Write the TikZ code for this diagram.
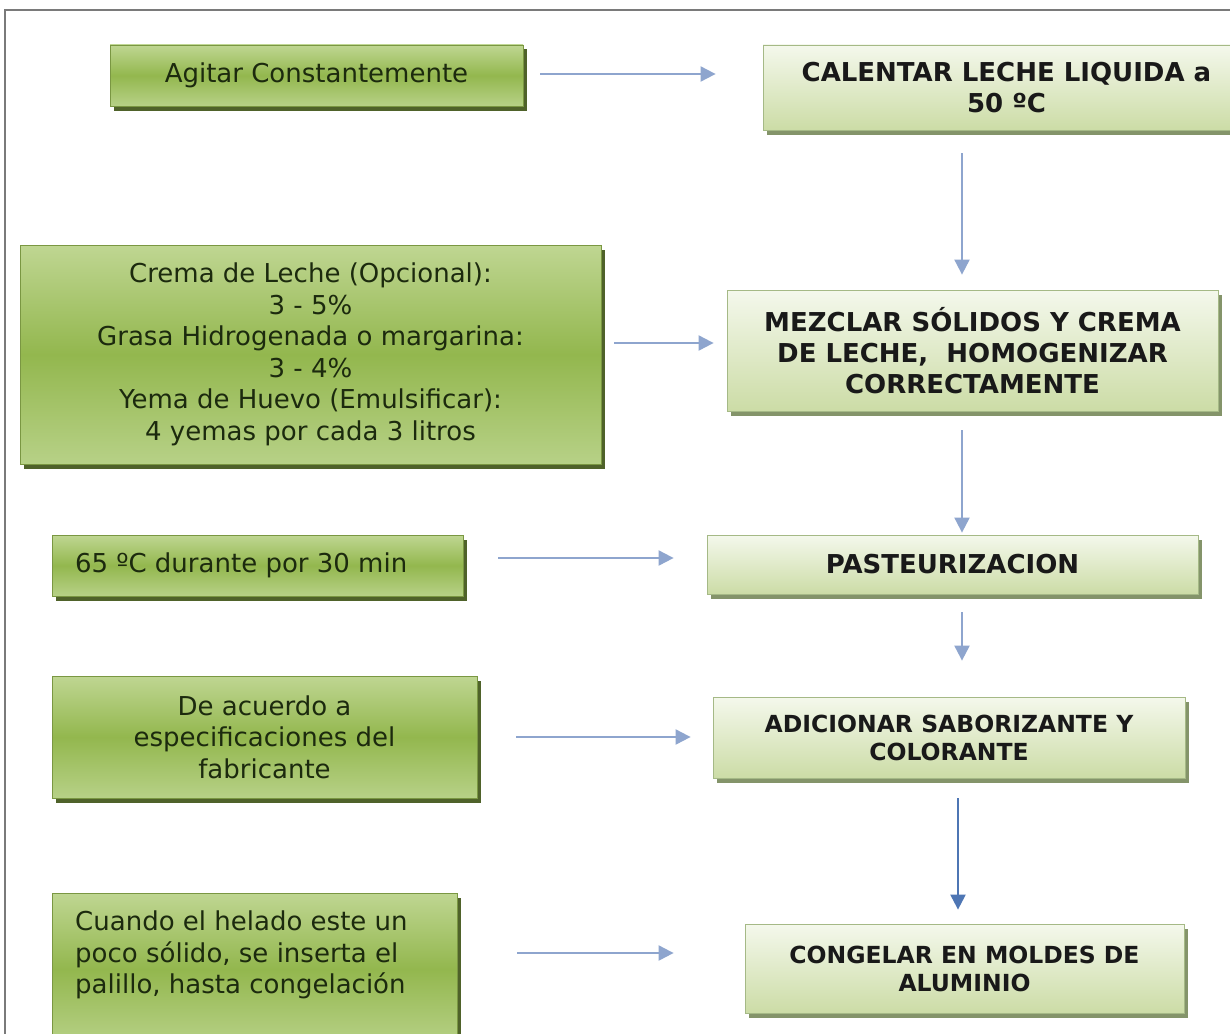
\documentclass[tikz,border=0pt]{standalone}
\usepackage{fontspec}
\setmainfont{DejaVu Sans}
\usetikzlibrary{arrows.meta,shadows}
\definecolor{lgTop}{HTML}{BFD692}
\definecolor{lgMid}{HTML}{93B74E}
\definecolor{lgBot}{HTML}{B7D187}
\definecolor{lgBorder}{HTML}{7A9742}
\definecolor{lgShadow}{HTML}{4F622A}
\definecolor{lgText}{HTML}{1C2A0E}
\definecolor{rgTop}{HTML}{F4F8EC}
\definecolor{rgBot}{HTML}{CCDCA6}
\definecolor{rgBorder}{HTML}{A5B986}
\definecolor{rgShadow}{HTML}{84946A}
\definecolor{arrLight}{HTML}{8EA5CE}
\definecolor{arrDark}{HTML}{4E76B4}
\definecolor{frameGray}{HTML}{7A7A7A}
\begin{document}
\begin{tikzpicture}[x=1pt,y=-1pt,
  lbox/.style={draw=lgBorder, line width=0.8pt, top color=lgTop, bottom color=lgBot, middle color=lgMid,
    general shadow={fill=lgShadow, shadow xshift=3.5pt, shadow yshift=-4.5pt},
    text=lgText, font=\fontsize{26}{31.5}\selectfont, align=center, inner sep=0pt},
  rbox/.style={draw=rgBorder, line width=0.8pt, top color=rgTop, bottom color=rgBot,
    general shadow={fill=rgShadow, shadow xshift=3.5pt, shadow yshift=-4.5pt},
    text=black!90, font=\fontsize{26}{31}\selectfont\bfseries, align=center, inner sep=0pt},
  smallb/.style={font=\fontsize{23.5}{28}\selectfont\bfseries},
  ltext/.style={text=lgText, font=\fontsize{26}{31.5}\selectfont, align=left, inner sep=0pt},
  flow/.style={draw=arrLight, line width=2pt, -{Triangle[length=15pt,width=15pt]}},
  flowdark/.style={draw=arrDark, line width=2.2pt, -{Triangle[length=15pt,width=15pt]}}
]
\useasboundingbox (0,0) rectangle (1230,1033);
\fill[white] (0,0) rectangle (1230,1033);
% frame
\draw[frameGray, line width=2.5pt] (5,1040) -- (5,10) -- (1240,10);

% left boxes
\node[lbox, minimum width=413, minimum height=61] (agit) at (316.5,75.5) {Agitar Constantemente};
\node[lbox, minimum width=581, minimum height=219] (crema) at (310.5,354.5)
  {Crema de Leche (Opcional):\\3 - 5\%\\Grasa Hidrogenada o margarina:\\3 - 4\%\\Yema de Huevo (Emulsificar):\\4 yemas por cada 3 litros};
\node[lbox, minimum width=411, minimum height=61] (t65) at (257.5,565.5)
  {\makebox[365pt][l]{65 ºC durante por 30 min}};
\node[lbox, minimum width=425, minimum height=122] (acu) at (264.5,737)
  {De acuerdo a\\especificaciones del\\fabricante};
\node[lbox, minimum width=405, minimum height=152] (cuan) at (254.5,969) {};
\node[ltext, anchor=north west] (cuantxt) at (75,911)
  {Cuando el helado este un\\poco sólido, se inserta el\\palillo, hasta congelación};

% right boxes
\node[rbox, minimum width=487, minimum height=85] (cal) at (1006.5,87.5)
  {CALENTAR LECHE LIQUIDA a\\50 ºC};
\node[rbox, minimum width=491, minimum height=121] (mez) at (972.5,350.5)
  {MEZCLAR SÓLIDOS Y CREMA\\DE LECHE,\ \ HOMOGENIZAR\\CORRECTAMENTE};
\node[rbox, minimum width=491, minimum height=59] (past) at (952.5,564.5) {PASTEURIZACION};
\node[rbox, smallb, minimum width=472, minimum height=81] (adic) at (949,737.5)
  {ADICIONAR SABORIZANTE Y\\COLORANTE};
\node[rbox, smallb, minimum width=439, minimum height=89] (cong) at (964.5,968.5)
  {CONGELAR EN MOLDES DE\\ALUMINIO};

% horizontal connectors
\draw[flow, shorten <=17pt, shorten >=47pt] ([yshift=1.5pt]agit.east) -- ([yshift=1.5pt]agit.east -| cal.west);
\draw[flow, shorten <=13pt, shorten >=13pt] ([yshift=11.5pt]crema.east) -- ([yshift=11.5pt]crema.east -| mez.west);
\draw[flow, shorten <=35pt, shorten >=33pt] ([yshift=7.5pt]t65.east) -- ([yshift=7.5pt]t65.east -| past.west);
\draw[flow, shorten <=39pt, shorten >=22pt] (acu.east) -- (acu.east -| adic.west);
\draw[flow, shorten <=60pt, shorten >=71pt] ([yshift=16pt]cuan.east) -- ([yshift=16pt]cuan.east -| cong.west);

% vertical connectors
\draw[flow, shorten <=23pt, shorten >=15pt] ([xshift=-44.5pt]cal.south) -- ([xshift=-10.5pt]mez.north);
\draw[flow, shorten <=19pt, shorten >=2pt] ([xshift=-10.5pt]mez.south) -- ([xshift=9.5pt]past.north);
\draw[flow, shorten <=18pt, shorten >=36pt] ([xshift=9.5pt]past.south) -- ([xshift=13pt]adic.north);
\draw[flowdark, shorten <=20pt, shorten >=14pt] ([xshift=9pt]adic.south) -- ([xshift=-6.5pt]cong.north);
\end{tikzpicture}
\end{document}
